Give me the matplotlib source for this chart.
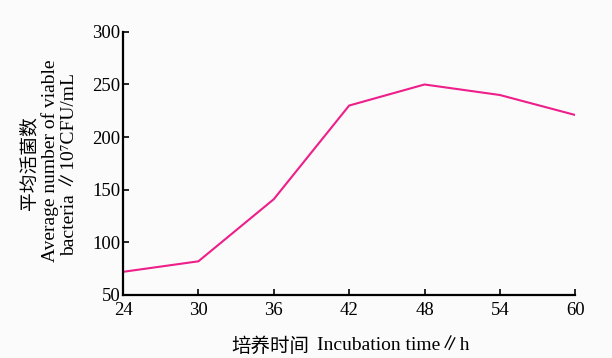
import matplotlib.pyplot as plt

# Data
hours = [24, 30, 36, 42, 48, 54, 60]
viable = [72, 82, 141, 230, 250, 240, 221]
x_ticks = [24, 30, 36, 42, 48, 54, 60]
y_ticks = [50, 100, 150, 200, 250, 300]

fams = ['Liberation Serif', 'Noto Sans CJK SC', 'DejaVu Sans']
W, H = 612, 358

fig = plt.figure(figsize=(6.12, 3.58), dpi=100, facecolor='#fbfbfb')
ax = fig.add_axes([0.201, 0.176, 0.739, 0.735], facecolor='#fbfbfb')

ax.plot(hours, viable, color='#ee1e8a', linewidth=1.5)

ax.set_xlim(24, 60)
ax.set_ylim(50, 300)
ax.set_xticks(x_ticks)
ax.set_yticks(y_ticks)
for lab in ax.get_xticklabels() + ax.get_yticklabels():
    lab.set_family('Liberation Serif')
    lab.set_fontsize(13.5)

ax.tick_params(direction='in', length=4, width=1.2, colors='black', pad=2)
ax.tick_params(axis='x', pad=5)
for s in ['top', 'right']:
    ax.spines[s].set_visible(False)
for s in ['left', 'bottom']:
    ax.spines[s].set_linewidth(1.6)

# y label: three stacked lines
fig.text(29 / W, 1 - 163 / H, '平均活菌数', family=['Noto Sans CJK SC'],
         fontsize=13.5, weight='light', rotation=90, ha='center', va='center')
fig.text(50 / W, 1 - 161 / H, 'Average number of viable', family=fams,
         fontsize=14, rotation=90, ha='center', va='center')
fig.text(70 / W, 1 - 165 / H, 'bacteria ∥10⁷CFU/mL', family=fams,
         fontsize=14, rotation=90, ha='center', va='center')

# x label: Chinese part plus English part
fig.text(309 / W, 1 - 346 / H, '培养时间', family=['Noto Sans CJK SC'],
         fontsize=14, weight='light', ha='right', va='center')
fig.text(317 / W, 1 - 346 / H, 'Incubation time∥h', family=fams,
         fontsize=14, ha='left', va='center')

plt.savefig('out.png', dpi=100, facecolor=fig.get_facecolor())
